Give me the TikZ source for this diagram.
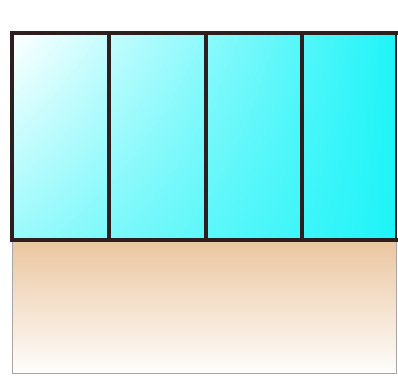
\documentclass[tikz,border=0pt]{standalone}
\usetikzlibrary{shadings}
\definecolor{glass}{RGB}{30,244,248}
\definecolor{sand}{RGB}{234,198,160}
\definecolor{frameclr}{RGB}{45,30,32}
\begin{document}
\begin{tikzpicture}[x=0.025cm,y=0.025cm,
    frame/.style={draw=frameclr,line width=1mm,line cap=rect},
    rim/.style={draw=gray!70,line width=0.25mm}]
  \useasboundingbox (0,0) rectangle (398,376);
  % corners of the box
  \coordinate (tl) at (12,343);
  \coordinate (mr) at (396,136);
  \coordinate (bl) at (12,3);
  % lower part, sand gradient
  \shade[top color=sand,bottom color=white!97!sand] (bl) rectangle (mr);
  \draw[rim] (12,136) -- (bl) -- (396,3) -- (mr);
  % upper part, glass panes
  \shade[upper left=white,upper right=glass,lower left=glass!45,lower right=glass] (tl) rectangle (mr);
  \draw[draw=frameclr,line width=0.3mm] (396,343) -- (mr);
  \foreach \x in {12,109,206,302}{
    \draw[frame] (\x,343) -- (\x,136);
  }
  \draw[frame] (tl) -- (396,343);
  \draw[frame] (12,136) -- (mr);
\end{tikzpicture}
\end{document}
